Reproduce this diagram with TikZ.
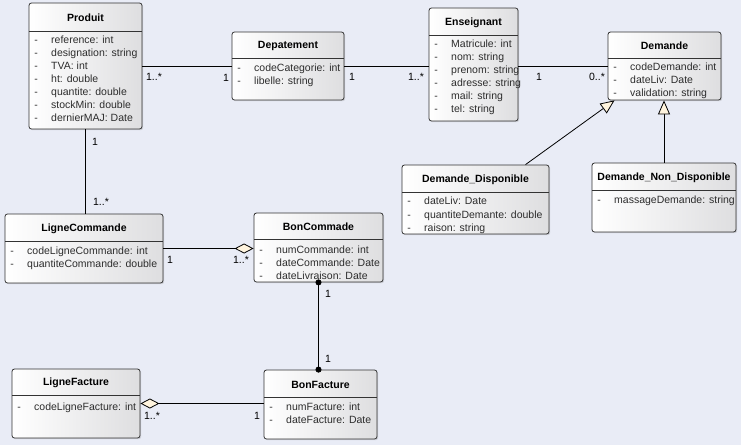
\documentclass[tikz,border=0pt]{standalone}
\usepackage{fontspec}
\setmainfont{Liberation Sans}
\usetikzlibrary{arrows.meta,shadows,calc}
\definecolor{bg}{RGB}{233,236,246}
\definecolor{cream}{RGB}{255,244,222}
\definecolor{boxend}{RGB}{222,222,224}
\definecolor{txt}{RGB}{45,45,45}
\tikzset{
  cls/.style={draw=black!80, line width=0.8pt, rounded corners=2.5pt,
    left color=white, right color=boxend, inner sep=0pt,
    drop shadow={shadow xshift=1.2pt, shadow yshift=-1.2pt, opacity=0.25}},
  sepline/.style={draw=black!80, line width=0.8pt},
  ttl/.style={font=\fontsize{10.5}{12}\selectfont\bfseries, text=black, inner sep=0pt},
  attr/.style={font=\fontsize{10.5}{12}\selectfont, text=txt, inner sep=0pt,
    text height=7.5pt, text depth=2pt},
  mult/.style={font=\fontsize{10.5}{12}\selectfont, text=black, inner sep=0pt},
  assoc/.style={draw=black, line width=0.8pt},
  gen/.style={assoc, -{Triangle[length=14pt, width=12pt, fill=cream]}},
  aggr/.style={assoc, {Diamond[length=19pt, width=10pt, fill=cream]}-},
  compo/.style={assoc, {Circle[length=6pt]}-{Circle[length=6pt]},
    shorten <=-3pt, shorten >=-3pt},
}
\newcommand\umlclass[7]{%
  \node[cls, minimum width={(#4-#2)*1pt}, minimum height={(#5-#3)*1pt}]
    (#1) at ({(#2+#4)/2},{(#3+#5)/2}) {};
  \draw[sepline] (#2,#6) -- (#4,#6);
  \node[ttl] (#1-title) at ({(#2+#4)/2},{(#3+#6)/2+1}) {#7};
}
\newcommand\umlattrs[5]{%
  \foreach \a [count=\i from 0] in {#5} {
    \node[attr] (#1-d\i) at ({#2+7},{#3+\i*#4}) {-};
    \node[attr, anchor=west] (#1-a\i) at ({#2+22},{#3+\i*#4}) {\a};
  }
}
\begin{document}
\begin{tikzpicture}[x=1pt, y=-1pt]
\fill[bg] (0,0) rectangle (741,445);
\useasboundingbox (0,0) rectangle (741,445);

\umlclass{produit}{29}{3}{142}{129}{31}{Produit}
\umlattrs{produit}{29}{41}{13}{reference: int, designation: string, TVA: int, ht: double, quantite: double, stockMin: double, dernierMAJ: Date}

\umlclass{dep}{232}{32}{344}{100}{58}{Depatement}
\umlattrs{dep}{232}{69}{13}{codeCategorie: int, libelle: string}

\umlclass{ens}{429}{8}{518}{121}{35}{Enseignant}
\umlattrs{ens}{429}{45}{13}{Matricule: int, nom: string, prenom: string, adresse: string, mail: string, tel: string}

\umlclass{dem}{608}{32}{721}{100}{58}{Demande}
\umlattrs{dem}{608}{68}{13}{codeDemande: int, dateLiv: Date, validation: string}

\umlclass{dd}{402}{165}{549}{234}{192}{Demande\_Disponible}
\umlattrs{dd}{402}{202}{13.5}{dateLiv: Date, quantiteDemante: double, raison: string}

\umlclass{dnd}{592}{163}{736}{232}{190}{Demande\_Non\_Disponible}
\umlattrs{dnd}{592}{201}{13}{massageDemande: string}

\umlclass{lc}{5}{214}{163}{283}{241}{LigneCommande}
\umlattrs{lc}{5}{252}{13}{codeLigneCommande: int, quantiteCommande: double}

\umlclass{bc}{254}{213}{383}{282}{239}{BonCommade}
\umlattrs{bc}{254}{251}{13}{numCommande: int, dateCommande: Date, dateLivraison: Date}

\umlclass{lf}{12}{369}{140}{438}{395}{LigneFacture}
\umlattrs{lf}{12}{408}{13}{codeLigneFacture: int}

\umlclass{bf}{264}{370}{377}{439}{397}{BonFacture}
\umlattrs{bf}{264}{408}{13}{numFacture: int, dateFacture: Date}

% connectors
\draw[assoc] (produit.east) -- (dep.west);
\draw[assoc] (dep.east) -- (ens.west |- dep.east);
\draw[assoc] (ens.east |- dem.west) -- (dem.west);
\draw[gen] ([xshift=50pt]dd.north) -- ([xshift=-50pt]dem.south);
\draw[gen] (dnd.north) -- (dnd.north |- dem.south);
\draw[assoc] (produit.south) -- (produit.south |- lc.north);
\draw[aggr] (bc.west |- lc.east) -- (lc.east);
\draw[compo] (bc.south) -- (bc.south |- bf.north);
\draw[aggr] (lf.east) -- (bf.west |- lf.east);

% multiplicities
\node[mult] (m1) at (154,77) {1..*};
\node[mult] (m2) at (226,78) {1};
\node[mult] (m3) at (352,77) {1};
\node[mult] (m4) at (416,77) {1..*};
\node[mult] (m5) at (539,77) {1};
\node[mult] (m6) at (597,77) {0..*};
\node[mult] (m7) at (95,142) {1};
\node[mult] (m8) at (101,202) {1..*};
\node[mult] (m9) at (170,260) {1};
\node[mult] (m10) at (241,260) {1..*};
\node[mult] (m11) at (328,294) {1};
\node[mult] (m12) at (328,359) {1};
\node[mult] (m13) at (152,416) {1..*};
\node[mult] (m14) at (257,416) {1};
\end{tikzpicture}
\end{document}
